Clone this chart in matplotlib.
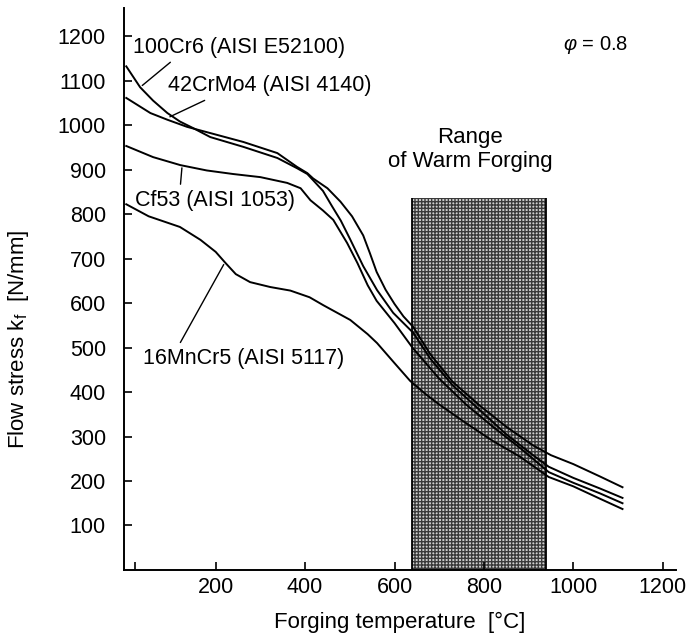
import numpy as np
import matplotlib
matplotlib.use("Agg")
import matplotlib.pyplot as plt
from matplotlib.patches import Rectangle

plt.rcParams['font.family'] = ['Liberation Sans', 'DejaVu Sans']
plt.rcParams['mathtext.fontset'] = 'custom'
plt.rcParams['mathtext.rm'] = 'Liberation Sans'
plt.rcParams['mathtext.it'] = 'Liberation Sans:italic'

# Fliesskurven, Werte (Temperatur in °C, kf in N/mm)
t_16mncr5 = [0, 50, 120, 166, 200, 222, 245, 277, 322, 367, 410, 441, 501, 540, 561, 600, 635,
             670, 700, 760, 820, 880, 945, 1000, 1060, 1110]
kf_16mncr5 = [822, 795, 771, 742, 715, 690, 665, 647, 636, 628, 613, 595, 562, 530, 510, 465, 425,
              395, 372, 330, 290, 255, 209, 188, 160, 137]

t_cf53 = [0, 60, 121, 180, 239, 300, 360, 390, 412, 440, 463, 494, 517, 540, 560, 600, 640,
          700, 760, 820, 880, 945, 1000, 1060, 1110]
kf_cf53 = [953, 928, 910, 898, 890, 883, 870, 858, 831, 808, 787, 735, 690, 640, 605, 555, 500,
           430, 372, 322, 275, 220, 196, 172, 150]

t_100cr6 = [0, 31, 60, 92, 120, 150, 188, 262, 338, 382, 405, 418, 440, 460, 480, 500, 530, 561, 597, 642,
            680, 730, 790, 850, 910, 945, 1000, 1060, 1110]
kf_100cr6 = [1132, 1085, 1055, 1027, 1008, 993, 973, 951, 926, 903, 890, 876, 852, 818, 785, 745, 683, 629, 578, 533,
             475, 415, 360, 305, 258, 232, 207, 183, 162]

t_42crmo4 = [0, 54, 92, 136, 188, 262, 338, 382, 405, 418, 450, 479, 505, 530, 545, 560, 580, 600, 620, 642,
             680, 730, 790, 850, 910, 950, 1000, 1060, 1110]
kf_42crmo4 = [1061, 1027, 1012, 996, 982, 962, 937, 906, 892, 880, 858, 828, 795, 752, 712, 670, 630, 598, 570, 546,
              485, 423, 370, 322, 280, 258, 238, 210, 186]

# Bereich Halbwarmumformung
warm_lo, warm_hi, warm_top = 640, 940, 835

x_ticks = [200, 400, 600, 800, 1000, 1200]
y_ticks = [100, 200, 300, 400, 500, 600, 700, 800, 900, 1000, 1100, 1200]

fs = 15.5

fig = plt.figure(figsize=(6.91, 6.40), dpi=100)
ax = fig.add_axes([0.1795, 0.1094, 0.799, 0.878])

# schraffierter Bereich
ax.add_patch(Rectangle((warm_lo, 0), warm_hi - warm_lo, warm_top, facecolor='#d0d0d0',
                       edgecolor='#3a3a3a', hatch='+++++', lw=0, zorder=1))
ax.vlines([warm_lo, warm_hi], 0, warm_top, colors='k', lw=1.3, zorder=2)

for t, kf in [(t_16mncr5, kf_16mncr5), (t_cf53, kf_cf53), (t_100cr6, kf_100cr6), (t_42crmo4, kf_42crmo4)]:
    ax.plot(t, kf, color='k', lw=1.4, zorder=3)

ax.set_xlim(-5, 1230)
ax.set_ylim(0, 1263)
ax.spines['top'].set_visible(False)
ax.spines['right'].set_visible(False)
ax.spines['left'].set_linewidth(1.4)
ax.spines['bottom'].set_linewidth(1.4)

ax.set_xticks(x_ticks)
ax.set_xticks([20], minor=True)
ax.set_yticks(y_ticks)
ax.tick_params(axis='both', direction='in', length=6, width=1.2, labelsize=fs)
ax.tick_params(axis='x', which='minor', direction='in', length=6, width=1.2)
ax.tick_params(axis='y', pad=13)
ax.tick_params(axis='x', pad=5)

ax.set_xlabel('Forging temperature  [°C]', fontsize=16, labelpad=10)
ax.set_ylabel('Flow stress k$_\\mathregular{f}$  [N/mm]', fontsize=16)
ax.yaxis.set_label_coords(-0.168, 0.41)

# Beschriftungen mit Hinweislinien
arrow = dict(arrowstyle='-', color='k', lw=1.0)
ax.annotate('100Cr6 (AISI E52100)', xy=(31, 1085), xytext=(16, 1175), fontsize=fs,
            va='center', ha='left', arrowprops=dict(arrow, relpos=(0.2, 0.0)))
ax.annotate('42CrMo4 (AISI 4140)', xy=(92, 1016), xytext=(94, 1088), fontsize=fs,
            va='center', ha='left', arrowprops=dict(arrow, relpos=(0.22, 0.0)))
ax.annotate('Cf53 (AISI 1053)', xy=(125, 910), xytext=(20, 831), fontsize=fs,
            va='center', ha='left', arrowprops=dict(arrow, relpos=(0.28, 1.0)))
ax.annotate('16MnCr5 (AISI 5117)', xy=(221, 692), xytext=(38, 476), fontsize=fs,
            va='center', ha='left', arrowprops=dict(arrow, relpos=(0.17, 1.0)))

ax.text(978, 1180, r'$\varphi$ = 0.8', fontsize=14.5, va='center', ha='left')
ax.text(770, 946, 'Range\nof Warm Forging', fontsize=16, va='center', ha='center', linespacing=1.2)

fig.savefig('out.png', dpi=100)
